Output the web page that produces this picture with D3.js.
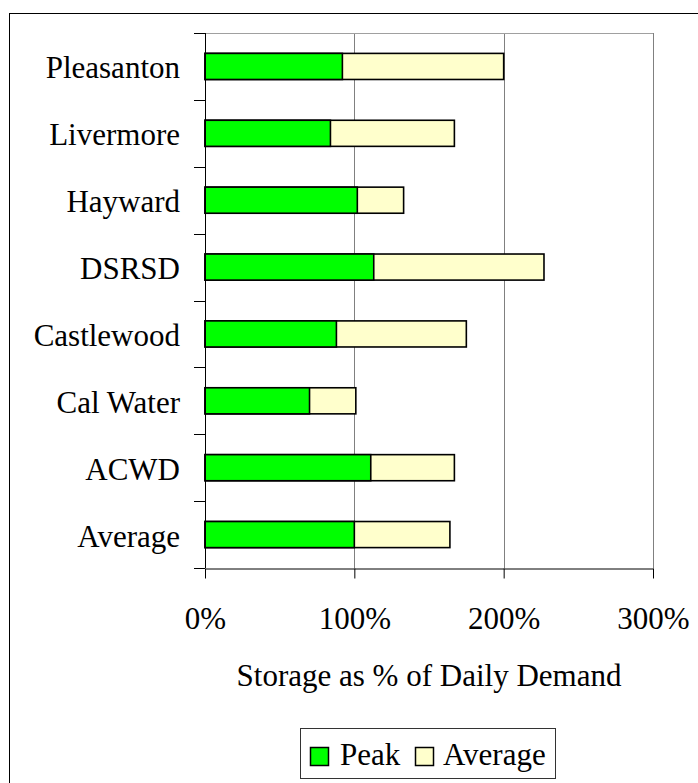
<!DOCTYPE html>
<html>
<head>
<meta charset="utf-8">
<script src="https://cdn.jsdelivr.net/npm/d3@7"></script>
</head>
<body style="margin:0;padding:0;background:#fff">
<svg id="chart" width="698" height="783" style="display:block"></svg>
<script>
const categories = ["Pleasanton", "Livermore", "Hayward", "DSRSD", "Castlewood", "Cal Water", "ACWD", "Average"];
const peakValues = [92, 84, 102, 113, 88, 70, 111, 100];
const averageValues = [200, 167, 133, 227, 175, 101, 167, 164];
const xTicks = [0, 100, 200, 300];
const seriesNames = ["Peak", "Average"];
const seriesColors = ["#00FF00", "#FFFFCC"];
const axisTitle = "Storage as % of Daily Demand";

const FONT = '"Liberation Serif", "Times New Roman", serif';
const FS = 31;
const svg = d3.select("#chart");
const plot = { left: 205, right: 653, top: 33, bottom: 568 };

// outer chart border
svg.append("rect")
  .attr("x", 9.5).attr("y", 13.5)
  .attr("width", 720).attr("height", 800)
  .attr("fill", "#fff").attr("stroke", "#000").attr("stroke-width", 1);

const x = d3.scaleLinear().domain([0, 300]).range([plot.left, plot.right]);
const y = d3.scaleBand().domain(categories).range([plot.top, plot.bottom]).padding(0);
const barH = y.bandwidth() * 0.39;

// gridlines
svg.append("g").selectAll("line")
  .data(xTicks.filter(d => d > 0))
  .join("line")
  .attr("x1", d => Math.round(x(d)) + 0.5).attr("x2", d => Math.round(x(d)) + 0.5)
  .attr("y1", plot.top).attr("y2", plot.bottom)
  .attr("stroke", "#808080").attr("stroke-width", 1);

// top plot border
svg.append("line")
  .attr("x1", plot.left).attr("x2", plot.right)
  .attr("y1", plot.top + 0.5).attr("y2", plot.top + 0.5)
  .attr("stroke", "#a0a0a0").attr("stroke-width", 1.2);

// bars: average behind, peak in front
const rows = categories.map((c, i) => ({ c, peak: peakValues[i], avg: averageValues[i] }));
const bars = svg.append("g");
bars.selectAll("rect.avg")
  .data(rows).join("rect").attr("class", "avg")
  .attr("x", x(0))
  .attr("y", d => y(d.c) + (y.bandwidth() - barH) / 2)
  .attr("width", d => x(d.avg) - x(0))
  .attr("height", barH)
  .attr("fill", seriesColors[1]).attr("stroke", "#000").attr("stroke-width", 1.6);
bars.selectAll("rect.peak")
  .data(rows).join("rect").attr("class", "peak")
  .attr("x", x(0))
  .attr("y", d => y(d.c) + (y.bandwidth() - barH) / 2)
  .attr("width", d => x(d.peak) - x(0))
  .attr("height", barH)
  .attr("fill", seriesColors[0]).attr("stroke", "#000").attr("stroke-width", 1.6);

// y axis (ticks at band boundaries)
const yAxis = svg.append("g");
yAxis.append("line")
  .attr("x1", plot.left + 0.5).attr("x2", plot.left + 0.5)
  .attr("y1", plot.top).attr("y2", plot.bottom)
  .attr("stroke", "#000").attr("stroke-width", 1);
const boundaries = categories.map(c => y(c)).concat([plot.bottom]);
yAxis.selectAll("line.tick")
  .data(boundaries).join("line").attr("class", "tick")
  .attr("x1", plot.left - 11).attr("x2", plot.left)
  .attr("y1", d => Math.round(d) + 0.5).attr("y2", d => Math.round(d) + 0.5)
  .attr("stroke", "#000").attr("stroke-width", 1);
yAxis.selectAll("text")
  .data(categories).join("text")
  .attr("x", plot.left - 25)
  .attr("y", d => y(d) + y.bandwidth() / 2 + 12)
  .attr("text-anchor", "end")
  .style("font-family", FONT).style("font-size", FS + "px").style("fill", "#000")
  .text(d => d);

// x axis
const xAxisG = svg.append("g")
  .attr("transform", `translate(0,${plot.bottom + 0.5})`)
  .call(d3.axisBottom(x).tickValues(xTicks).tickSize(10).tickSizeOuter(0).tickFormat(d => d + "%"));
xAxisG.select(".domain").attr("stroke", "#000");
xAxisG.selectAll(".tick line").attr("stroke", "#000");
xAxisG.selectAll(".tick text")
  .attr("y", 60).attr("dy", 0)
  .style("font-family", FONT).style("font-size", FS + "px").style("fill", "#000");

// axis title
svg.append("text")
  .attr("x", (plot.left + plot.right) / 2)
  .attr("y", 686)
  .attr("text-anchor", "middle")
  .style("font-family", FONT).style("font-size", FS + "px").style("fill", "#000")
  .text(axisTitle);

// legend
const legend = svg.append("g");
legend.append("rect")
  .attr("x", 300.5).attr("y", 728.5)
  .attr("width", 255).attr("height", 50)
  .attr("fill", "#fff").attr("stroke", "#333").attr("stroke-width", 1);
const legendItems = [
  { name: seriesNames[0], color: seriesColors[0], sx: 310, tx: 340 },
  { name: seriesNames[1], color: seriesColors[1], sx: 415, tx: 443 }
];
legendItems.forEach(it => {
  legend.append("rect")
    .attr("x", it.sx + 0.5).attr("y", 747.5)
    .attr("width", 18).attr("height", 18)
    .attr("fill", it.color).attr("stroke", "#000").attr("stroke-width", 1.5);
  legend.append("text")
    .attr("x", it.tx).attr("y", 765)
    .style("font-family", FONT).style("font-size", FS + "px").style("fill", "#000")
    .text(it.name);
});
</script>
</body>
</html>
